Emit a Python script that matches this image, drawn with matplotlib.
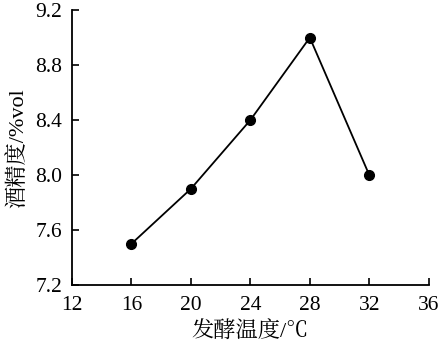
import matplotlib
matplotlib.use("Agg")
from matplotlib import pyplot as plt

temps = [16, 20, 24, 28, 32]
alcohol = [7.5, 7.9, 8.4, 9.0, 8.0]

xticks = [12, 16, 20, 24, 28, 32, 36]
yticks = [7.2, 7.6, 8.0, 8.4, 8.8, 9.2]

fams = ['Liberation Serif', 'Noto Serif CJK SC']
plt.rcParams['font.family'] = fams

fig = plt.figure(figsize=(4.38, 3.49), dpi=100)
ax = fig.add_axes([0.164, 0.183, 0.815, 0.788])

ax.plot(temps, alcohol, color='black', linewidth=1.3, marker='o', markersize=7)

ax.set_xlim(12, 36)
ax.set_ylim(7.2, 9.2)
ax.set_xticks(xticks)
ax.set_yticks(yticks)
ax.set_xticklabels([str(v) for v in xticks], family=fams)
ax.set_yticklabels(["{:.1f}".format(v) for v in yticks], family=fams)

ax.spines['top'].set_visible(False)
ax.spines['right'].set_visible(False)
ax.spines['left'].set_linewidth(1.3)
ax.spines['bottom'].set_linewidth(1.3)
ax.tick_params(direction='in', length=5, width=1.2, labelsize=15.5)
ax.tick_params(axis='x', pad=8)
ax.tick_params(axis='y', pad=7)

ax.set_xlabel('发酵温度/℃', fontsize=16, family=fams, labelpad=5)
ax.set_ylabel('酒精度/%vol', fontsize=16, family=fams, labelpad=5)

fig.savefig('out.png', dpi=100)
